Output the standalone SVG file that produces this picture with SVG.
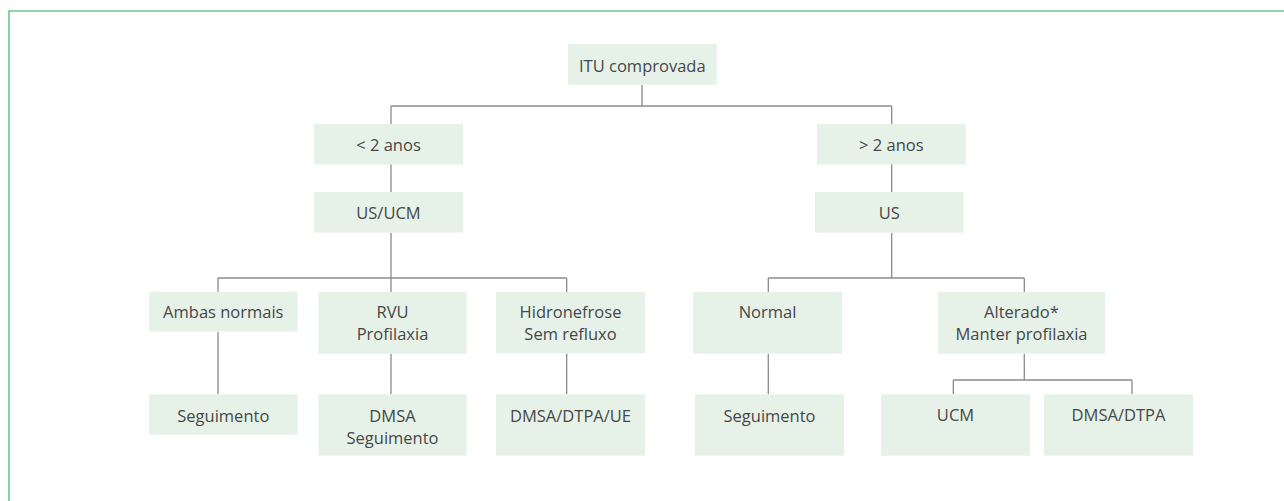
<svg xmlns="http://www.w3.org/2000/svg" width="1284" height="501" viewBox="0 0 1284 501">
<style>
.box{fill:#e6f2e8}
.t{font-family:"Open Sans","Liberation Sans",sans-serif;font-size:16.5px;fill:#474747;text-anchor:middle}
.c{fill:none;stroke:#8c8c8c;stroke-width:1.3}
.frame{fill:none;stroke:#6cc596;stroke-width:1.6}
</style>
<rect width="1284" height="501" fill="#ffffff"/>
<path class="frame" d="M9 501 V11 H1284"/>
<g id="connectors">
<path class="c" d="M642 84.7 V106 M391 106 H891.7 M391 106 V124 M891.7 106 V124"/>
<path class="c" d="M391 164 V192 M891.7 164 V192"/>
<path class="c" d="M391 232.7 V278 M218 278 H566.7 M218 278 V292 M391 278 V292 M566.7 278 V292"/>
<path class="c" d="M218 331.7 V394.3 M391 353.7 V394.3 M566.7 353.5 V394.3"/>
<path class="c" d="M891.7 232.7 V278 M768.3 278 H1024.3 M768.3 278 V292 M1024.3 278 V292"/>
<path class="c" d="M768.3 353.7 V394.3 M1024.3 353.7 V380 M953.3 380 H1132 M953.3 380 V394.3 M1132 380 V394.3"/>
</g>
<g id="n-itu"><rect class="box" x="568" y="44" width="148.7" height="40.7"/><text class="t" x="642.3" y="71.5">ITU comprovada</text></g>
<g id="n-lt2"><rect class="box" x="314" y="124" width="149" height="40.5"/><text class="t" x="388.5" y="150.7">&lt; 2 anos</text></g>
<g id="n-gt2"><rect class="box" x="817" y="124" width="148.7" height="40.5"/><text class="t" x="891.3" y="150.7">&gt; 2 anos</text></g>
<g id="n-usucm"><rect class="box" x="314" y="192" width="149" height="40.7"/><text class="t" x="388.5" y="219.3">US/UCM</text></g>
<g id="n-us"><rect class="box" x="815" y="192" width="148.7" height="40.7"/><text class="t" x="889.3" y="219.3">US</text></g>
<g id="n-ambas"><rect class="box" x="149" y="291.7" width="148.7" height="40"/><text class="t" x="223.3" y="318.3">Ambas normais</text></g>
<g id="n-rvu"><rect class="box" x="318.3" y="292" width="148.4" height="61.7"/><text class="t" x="392.5" y="317.5">RVU</text><text class="t" x="392.5" y="340.2">Profilaxia</text></g>
<g id="n-hidro"><rect class="box" x="496" y="292" width="149" height="61.5"/><text class="t" x="570.5" y="317.5">Hidronefrose</text><text class="t" x="570.5" y="340.2">Sem refluxo</text></g>
<g id="n-normal"><rect class="box" x="693" y="292" width="149" height="61.7"/><text class="t" x="767.5" y="318.3">Normal</text></g>
<g id="n-alterado"><rect class="box" x="938" y="292" width="167" height="61.7"/><text class="t" x="1021.5" y="317.7">Alterado*</text><text class="t" x="1021.5" y="340.2">Manter profilaxia</text></g>
<g id="n-seg1"><rect class="box" x="149" y="394.3" width="148.7" height="40.4"/><text class="t" x="223.3" y="421.5">Seguimento</text></g>
<g id="n-dmsa"><rect class="box" x="318.3" y="394.3" width="148.4" height="61.4"/><text class="t" x="392.5" y="421.5">DMSA</text><text class="t" x="392.5" y="444.2">Seguimento</text></g>
<g id="n-dmsaue"><rect class="box" x="496" y="394.3" width="149" height="61.4"/><text class="t" x="570.5" y="421.5">DMSA/DTPA/UE</text></g>
<g id="n-seg2"><rect class="box" x="695" y="394.3" width="149" height="61.4"/><text class="t" x="769.5" y="421.5">Seguimento</text></g>
<g id="n-ucm"><rect class="box" x="881" y="394.3" width="149" height="61.4"/><text class="t" x="955.5" y="421">UCM</text></g>
<g id="n-dmsadtpa"><rect class="box" x="1044" y="394.3" width="149" height="61.4"/><text class="t" x="1118.5" y="421">DMSA/DTPA</text></g>
</svg>
